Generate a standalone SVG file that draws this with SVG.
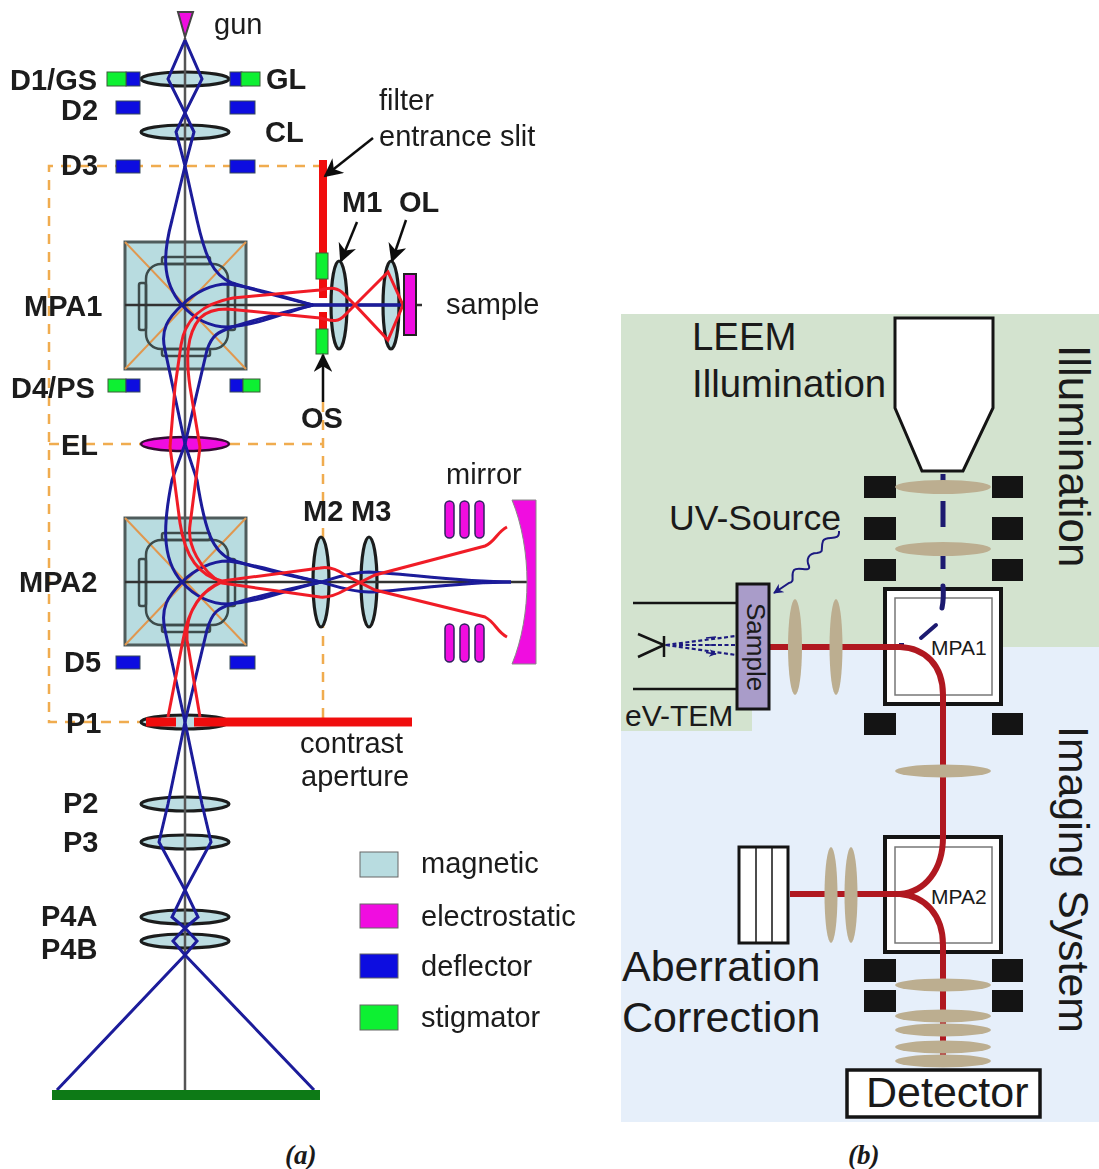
<svg xmlns="http://www.w3.org/2000/svg" width="1099" height="1169" viewBox="0 0 1099 1169">
<defs>
<style>
text{font-family:"Liberation Sans",Arial,sans-serif;fill:#1a1a1a}
.lb{font-weight:bold;font-size:29px}
.rg{font-size:29px}
.ml{fill:#bcdde2;stroke:#1a1f1f;stroke-width:3.2}
.def{fill:#0808e0;stroke:#3a4a5a;stroke-width:1}
.sti{fill:#10f030;stroke:#3a5a3a;stroke-width:1}
.ele{fill:#f010e0;stroke:#301030;stroke-width:1.5}
.dash{fill:none;stroke:#f0ac50;stroke-width:2.5;stroke-dasharray:10 8}
.blue{fill:none;stroke:#1a1a9a;stroke-width:3}
.red{fill:none;stroke:#f01c28;stroke-width:3}
.axis{fill:none;stroke:#303030;stroke-width:2.5}
.mpa{fill:#b8dce0;stroke:#505c5c;stroke-width:3}
.pole{fill:none;stroke:#3c4c4c;stroke-width:2.5}
.diag{stroke:#e09850;stroke-width:2}
.blk{fill:#141414}
.tan{fill:#bcae90}
.box{fill:#fff;stroke:#141414;stroke-width:4}
.inner{fill:#fff;stroke:#777;stroke-width:1.5}
.crimson{fill:none;stroke:#b01820;stroke-width:6}
.bl2{font-size:38.4px}
.cap{font-family:"Liberation Serif",serif;font-weight:bold;font-style:italic;font-size:27px}
</style>
<filter id="soft" x="-5%" y="-5%" width="110%" height="110%"><feGaussianBlur stdDeviation="0.7"/></filter>
<g id="mpaBody">
<rect class="mpa" x="125" y="0" width="121" height="127"/>
<path class="diag" d="M125 0L246 127M246 0L125 127"/>
<rect class="pole" x="146" y="22" width="82" height="85" rx="15"/>
<rect class="pole" x="162" y="15" width="48" height="7" rx="2"/>
<rect class="pole" x="162" y="107" width="48" height="7" rx="2"/>
<rect class="pole" x="139" y="41" width="7" height="47" rx="2"/>
<rect class="pole" x="228" y="41" width="7" height="47" rx="2"/>
</g>
<marker id="ah" viewBox="0 0 10 10" refX="9" refY="5" markerWidth="7.5" markerHeight="7.5" orient="auto"><path d="M0 0L10 5L0 10L3 5Z" fill="#111"/></marker>
<marker id="ab" viewBox="0 0 10 10" refX="9" refY="5" markerWidth="5" markerHeight="5" orient="auto"><path d="M0 0L10 5L0 10L3 5Z" fill="#1c1a80"/></marker>
</defs>
<rect width="1099" height="1169" fill="#fff"/>

<g id="panel-a" filter="url(#soft)">
<g id="dashes">
<path class="dash" d="M323 166H49V722H140"/>
<path class="dash" d="M49 444H140M230 444H323M323 402V720"/>
</g>
<g id="mpa1"><use href="#mpaBody" y="242"/></g>
<g id="mpa2"><use href="#mpaBody" y="518"/></g>
<g id="lenses">
<ellipse class="ml" cx="185" cy="79" rx="44" ry="7"/>
<ellipse class="ml" cx="185" cy="132" rx="44" ry="7"/>
<ellipse class="ele" style="stroke-width:2.5" cx="185" cy="444" rx="44" ry="7"/>
<ellipse class="ml" cx="185" cy="722" rx="44" ry="7"/>
<ellipse class="ml" cx="185" cy="804" rx="44" ry="7"/>
<ellipse class="ml" cx="185" cy="842" rx="44" ry="7"/>
<ellipse class="ml" cx="185" cy="917" rx="44" ry="7"/>
<ellipse class="ml" cx="185" cy="941" rx="44" ry="7"/>
<ellipse class="ml" cx="339" cy="305" rx="8" ry="44"/>
<ellipse class="ml" cx="391" cy="305" rx="8" ry="44"/>
<ellipse class="ml" cx="321" cy="582" rx="8" ry="45"/>
<ellipse class="ml" cx="369" cy="582" rx="8" ry="45"/>
</g>
<g id="axes">
<path class="axis" style="stroke:#555" d="M185 38V1090"/>
<path class="axis" d="M125 305H422M125 582H527"/>
</g>
<g id="electrodes">
<rect class="def" x="126" y="72" width="14" height="14"/><rect class="sti" x="107" y="72" width="19" height="14"/>
<rect class="def" x="230" y="72" width="12" height="14"/><rect class="sti" x="241" y="72" width="19" height="14"/>
<rect class="def" x="116" y="101" width="24" height="13"/><rect class="def" x="230" y="101" width="25" height="13"/>
<rect class="def" x="116" y="160" width="24" height="13"/><rect class="def" x="230" y="160" width="25" height="13"/>
<rect class="sti" x="108" y="379" width="18" height="13"/><rect class="def" x="126" y="379" width="14" height="13"/>
<rect class="def" x="230" y="379" width="13" height="13"/><rect class="sti" x="243" y="379" width="17" height="13"/>
<rect class="def" x="116" y="656" width="24" height="13"/><rect class="def" x="230" y="656" width="25" height="13"/>
</g>
<g id="slit">
<rect x="319" y="160" width="8" height="94" fill="#f01010"/>
<rect x="319" y="279" width="8" height="19" fill="#f01010"/>
<rect x="319" y="312" width="8" height="18" fill="#f01010"/>
<rect class="sti" x="316" y="253" width="12" height="26"/>
<rect class="sti" x="316" y="329" width="12" height="25"/>
</g>
<g id="rays">
<path class="blue" d="M185 40L168 79L185 113L202 79L185 40M185 113L176 132L185 166L194 132L185 113"/>
<path class="blue" d="M185 166L172 220C164 250 160 280 182 305C195 320 212 327 228 327C260 325 285 312 313 305L403 305"/>
<path class="blue" d="M185 166L197 220C205 255 212 275 232 283C260 292 285 298 313 305L403 305"/>
<path class="blue" d="M185 444L165 350C160 330 168 318 182 305C195 292 212 284 228 284C260 288 285 298 313 305"/>
<path class="blue" d="M185 444L207 350C212 335 218 332 232 327C260 318 285 312 313 305"/>
<path class="red" d="M170 447L175 387L181 345C184 325 195 305 233 298L320 290C330 288 337 286 345 295L355 305L388 272L403 305"/>
<path class="red" d="M200 447L190 387C186 360 186 335 200 318C208 310 218 309 227 309L320 318C330 320 337 324 345 315L355 305L388 340L403 305"/>
<path class="blue" d="M185 444L172 480C164 520 160 558 182 582C195 597 212 604 228 604C260 602 285 590 321 582C335 578 350 572 369 572C400 573 460 582 511 582"/>
<path class="blue" d="M185 444L197 480C205 530 212 552 232 560C260 569 285 575 321 582C335 586 350 592 369 592C400 591 460 582 511 582"/>
<path class="blue" d="M185 722L165 630C160 608 168 596 182 582C195 569 212 561 228 561C260 565 285 575 321 582"/>
<path class="blue" d="M185 722L207 630C212 612 218 608 232 604C260 595 285 590 321 582"/>
<path class="red" d="M170 447L180 523C184 550 195 575 222 581L320 568C330 566 338 570 345 575L375 590L485 617C495 622 497 632 507 637"/>
<path class="red" d="M200 447L190 525C187 545 200 570 222 583L320 597C330 598 338 594 345 590L375 575L485 546C495 542 497 532 507 527"/>
<path class="red" d="M222 582C200 590 188 612 183 640L168 717M222 582C200 592 185 612 187 640L200 717"/>
<path class="blue" d="M185 722L168 804L159 842L185 890L172 917L185 928L173 941L185 955L57 1090M185 722L202 804L211 842L185 890L198 917L185 928L197 941L185 955L314 1090"/>
</g>
<g id="contrast">
<path d="M146 722H176M194 722H412" stroke="#f01010" stroke-width="9" fill="none"/>
</g>
<g id="gun"><path d="M178 12H193L185 37Z" fill="#f010e0" stroke="#444" stroke-width="2"/></g>
<g id="sample-a"><rect x="404" y="274" width="12" height="61" fill="#f010e0" stroke="#222" stroke-width="2"/></g>
<g id="mirror">
<path d="M512 500H536V664H512C522 640 527 610 527 582C527 554 522 524 512 500Z" fill="#f010e0" stroke="#888" stroke-width="1"/>
<g fill="#f010e0" stroke="#302060" stroke-width="1.5">
<rect x="445" y="501" width="9" height="37" rx="4.5"/><rect x="460" y="501" width="9" height="37" rx="4.5"/><rect x="475" y="501" width="9" height="37" rx="4.5"/>
<rect x="445" y="624" width="9" height="38" rx="4.5"/><rect x="460" y="624" width="9" height="38" rx="4.5"/><rect x="475" y="624" width="9" height="38" rx="4.5"/>
</g>
</g>
<g id="screen"><rect x="52" y="1090" width="268" height="10" fill="#0a7a14"/></g>
<g id="arrows" fill="none" stroke="#111" stroke-width="2.5" marker-end="url(#ah)">
<path d="M373 138L325 176"/>
<path d="M357 222L341 261"/>
<path d="M406 220L392 261"/>
<path d="M323 402V355"/>
</g>
<g id="labels-a">
<text x="214" y="34" class="rg">gun</text>
<text x="10" y="90" class="lb">D1/GS</text>
<text x="266" y="89" class="lb">GL</text>
<text x="61" y="120" class="lb">D2</text>
<text x="265" y="142" class="lb">CL</text>
<text x="61" y="175" class="lb">D3</text>
<text x="379" y="110" class="rg">filter</text>
<text x="379" y="146" class="rg">entrance slit</text>
<text x="342" y="212" class="lb">M1</text>
<text x="399" y="212" class="lb">OL</text>
<text x="24" y="316" class="lb">MPA1</text>
<text x="446" y="314" class="rg">sample</text>
<text x="11" y="398" class="lb">D4/PS</text>
<text x="301" y="428" class="lb">OS</text>
<text x="61" y="455" class="lb">EL</text>
<text x="446" y="484" class="rg">mirror</text>
<text x="303" y="521" class="lb">M2</text>
<text x="351" y="521" class="lb">M3</text>
<text x="19" y="592" class="lb">MPA2</text>
<text x="64" y="672" class="lb">D5</text>
<text x="66" y="733" class="lb">P1</text>
<text x="300" y="753" class="rg">contrast</text>
<text x="301" y="786" class="rg">aperture</text>
<text x="63" y="813" class="lb">P2</text>
<text x="63" y="852" class="lb">P3</text>
<text x="41" y="926" class="lb">P4A</text>
<text x="41" y="959" class="lb">P4B</text>
</g>
<g id="legend">
<rect x="360" y="852" width="38" height="25" fill="#b8dce0" stroke="#666"/>
<rect x="360" y="904" width="38" height="24" fill="#f010e0" stroke="#666"/>
<rect x="360" y="954" width="38" height="24" fill="#0808e0" stroke="#666"/>
<rect x="360" y="1005" width="38" height="25" fill="#10f030" stroke="#666"/>
<text x="421" y="873" class="rg">magnetic</text>
<text x="421" y="926" class="rg">electrostatic</text>
<text x="421" y="976" class="rg">deflector</text>
<text x="421" y="1027" class="rg">stigmator</text>
</g>
</g>

<g id="panel-b">
<g id="backgrounds">
<rect x="621" y="647" width="478" height="475" fill="#e6effa"/>
<path d="M621 314H1099V647H752V731H621Z" fill="#d3e3cf"/>
</g>
<g id="gun-b"><path d="M895 318H993V408L963 471H922L895 408Z" fill="#fff" stroke="#141414" stroke-width="3"/></g>
<g id="blocks" class="blk">
<rect x="864" y="476" width="32" height="22"/><rect x="992" y="476" width="31" height="22"/>
<rect x="864" y="517" width="32" height="23"/><rect x="992" y="517" width="31" height="23"/>
<rect x="864" y="559" width="32" height="22"/><rect x="992" y="559" width="31" height="22"/>
<rect x="864" y="713" width="32" height="22"/><rect x="992" y="713" width="31" height="22"/>
<rect x="864" y="959" width="32" height="23"/><rect x="992" y="959" width="31" height="23"/>
<rect x="864" y="990" width="32" height="22"/><rect x="992" y="990" width="31" height="22"/>
</g>
<g id="boxes">
<rect class="box" x="885" y="589" width="116" height="115"/><rect class="inner" x="895" y="598" width="97" height="97"/>
<rect class="box" x="885" y="837" width="116" height="115"/><rect class="inner" x="895" y="847" width="97" height="96"/>
<rect class="box" x="739" y="847" width="49" height="96" style="stroke-width:3"/>
<path d="M756 847V943M772 847V943" stroke="#141414" stroke-width="1.5" fill="none"/>
</g>
<g id="beam-b">
<path d="M943 474V488M943 501V527M943 555V569" fill="none" stroke="#1c1a70" stroke-width="5"/>
<path d="M943 586Q944 598 942 608" fill="none" stroke="#1c1a70" stroke-width="5" stroke-linecap="round"/>
<path d="M921 638L936 625" fill="none" stroke="#1c1a70" stroke-width="4" stroke-linecap="round"/>
<path d="M899 644H904" fill="none" stroke="#1c1a70" stroke-width="2"/>
<path class="crimson" d="M769 647H900C925 648 943 665 943 695V837C943 870 925 892 900 894H790M900 894C925 896 943 915 943 945V1060"/>
</g>
<g id="lenses-b" class="tan">
<ellipse cx="943" cy="487" rx="48" ry="7"/>
<ellipse cx="943" cy="549" rx="48" ry="7"/>
<ellipse cx="943" cy="771" rx="48" ry="6.5"/>
<ellipse cx="943" cy="985" rx="48" ry="6.5"/>
<ellipse cx="943" cy="1016" rx="48" ry="6.5"/>
<ellipse cx="943" cy="1030" rx="48" ry="6.5"/>
<ellipse cx="943" cy="1047" rx="48" ry="6.5"/>
<ellipse cx="943" cy="1061" rx="48" ry="6.5"/>
<ellipse cx="795" cy="647" rx="7" ry="48"/>
<ellipse cx="836" cy="647" rx="6.5" ry="48"/>
<ellipse cx="831" cy="895" rx="6.5" ry="48"/>
<ellipse cx="851" cy="895" rx="6.5" ry="48"/>
</g>
<g id="tem">
<path d="M633 603H737M633 689H737" stroke="#141414" stroke-width="2.5" fill="none"/>
<path d="M638 634L664 645L638 657M664 636V657" stroke="#141414" stroke-width="2.5" fill="none"/>
<path d="M666 645L736 636M666 645H736M666 645L736 655" stroke="#1c1a80" stroke-width="2.2" stroke-dasharray="4 2.5" fill="none"/>
<path d="M706 638L716 637M706 645H716M706 652.5L716 654" stroke="#1c1a80" stroke-width="1.5" fill="none" marker-end="url(#ab)"/>
</g>
<g id="sample-b">
<rect x="737" y="584" width="32" height="125" fill="#a99cc9" stroke="#141414" stroke-width="3"/>
<text transform="translate(747 603) rotate(90)" font-size="26">Sample</text>
</g>
<path id="uv-wave" d="M839 531C840 543 826 534 823 541C820 549 825 552 817 553C808 553 806 560 809 566C811 573 798 566 794 570C790 575 796 582 789 583L774 593" fill="none" stroke="#1c1a80" stroke-width="2" marker-end="url(#ab)"/>
<g id="detector"><rect class="box" x="847" y="1070" width="193" height="47" style="stroke-width:3.5"/>
<text x="866" y="1107" font-size="43">Detector</text></g>
<g id="labels-b">
<text x="692" y="350" class="bl2">LEEM</text>
<text x="692" y="397" class="bl2">Illumination</text>
<text x="669" y="530" font-size="35.6">UV-Source</text>
<text x="625" y="726" font-size="30">eV-TEM</text>
<text x="931" y="655" font-size="21">MPA1</text>
<text x="931" y="904" font-size="21">MPA2</text>
<text x="622" y="981" font-size="43">Aberration</text>
<text x="622" y="1032" font-size="43">Correction</text>
<text transform="translate(1059 345) rotate(90)" font-size="44">Illumination</text>
<text transform="translate(1059 726) rotate(90)" font-size="42.8">Imaging System</text>
</g>
</g>
<text x="285" y="1164" class="cap">(a)</text>
<text x="848" y="1164" class="cap">(b)</text>
</svg>
